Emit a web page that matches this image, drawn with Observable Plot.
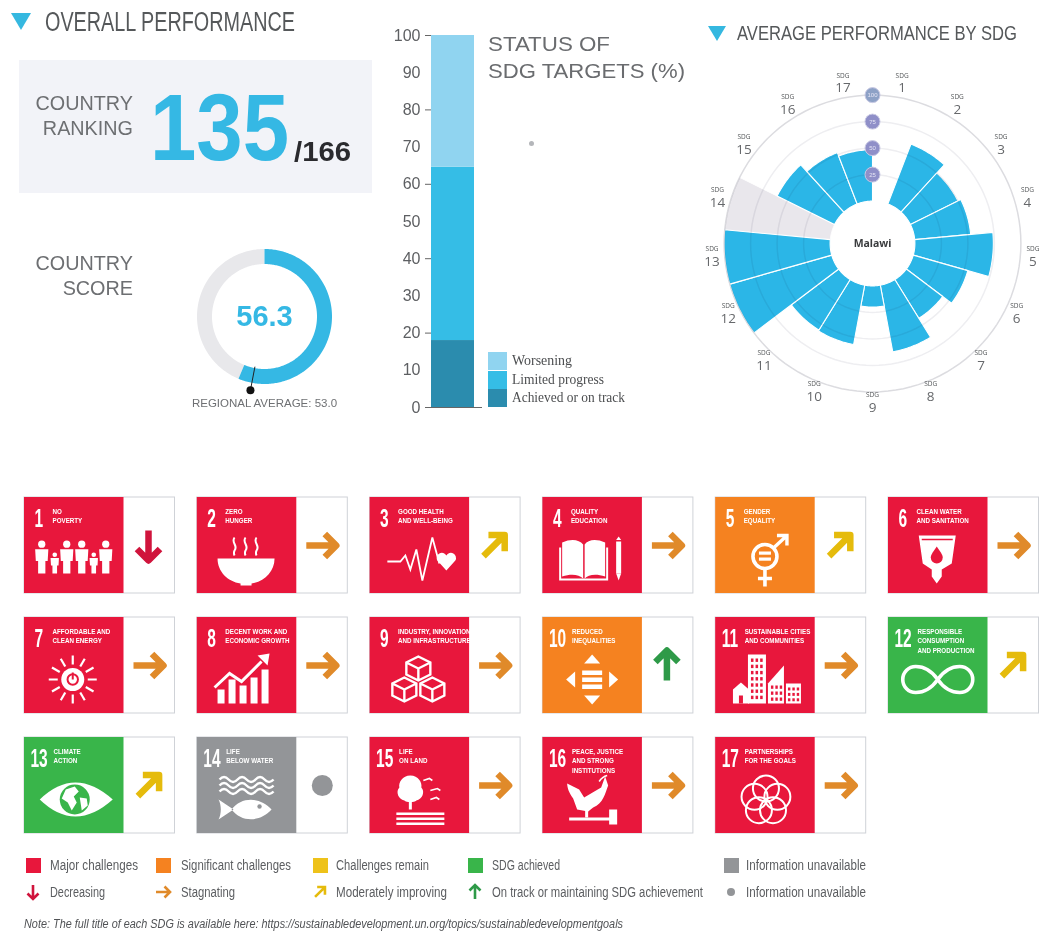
<!DOCTYPE html>
<html>
<head>
<meta charset="utf-8">
<script src="https://cdn.jsdelivr.net/npm/d3@7"></script>
<script src="https://cdn.jsdelivr.net/npm/@observablehq/plot@0.6"></script>
<style>
  html, body { margin: 0; background: #fff; }
  #page { position: relative; width: 1042px; height: 934px; overflow: hidden; font-family: "Liberation Sans", sans-serif; }
  #page > * { position: absolute; }
  #page svg { overflow: visible; background: none; }
  .label { color: #6d6f72; font-size: 19.8px; line-height: 25px; text-align: right; width: 125px; left: 8px; }
  .heading { color: #55585a; white-space: nowrap; transform-origin: 0 50%; }
  .tri { width: 0; height: 0; border-left: 10px solid transparent; border-right: 10px solid transparent; border-top: 17px solid #35b8e0; }
  .swatch { width: 15px; height: 15px; }
  .legend { font-size: 14px; color: #5b5d60; white-space: nowrap; transform-origin: 0 50%; }
  .barkey { font: 14px "Liberation Serif", serif; color: #4c4e50; white-space: nowrap; transform-origin: 0 50%; }
</style>
</head>
<body>
<div id="page"></div>
<script>
// Country figures
const countryRank = 135;
const countryTotal = 166;
const countryScore = 56.3;
const regionalAverage = 53.0;

// Share of SDG targets by status
const targetStatus = ["Achieved or on track", "Limited progress", "Worsening"];
const targetShare = [18, 46.6, 35.4];
const targetColors = ["#2b8cae", "#35bde6", "#90d4f0"];
const yTicks = [0, 10, 20, 30, 40, 50, 60, 70, 80, 90, 100];

// Average score per goal; goal 14 has no score and goal 1 has no visible bar
const sdgNumbers = [1, 2, 3, 4, 5, 6, 7, 8, 9, 10, 11, 12, 13, 14, 15, 16, 17];
const sdgScores = [0, 60.5, 50, 53, 74, 53.5, 43, 64, 20, 57, 56, 100, 100, null, 60.5, 52, 48.5];
const ringValues = [25, 50, 75, 100];

// Dashboard tiles
const sdgTitles = [
  "NO\nPOVERTY", "ZERO\nHUNGER", "GOOD HEALTH\nAND WELL-BEING", "QUALITY\nEDUCATION", "GENDER\nEQUALITY",
  "CLEAN WATER\nAND SANITATION", "AFFORDABLE AND\nCLEAN ENERGY", "DECENT WORK AND\nECONOMIC GROWTH",
  "INDUSTRY, INNOVATION\nAND INFRASTRUCTURE", "REDUCED\nINEQUALITIES", "SUSTAINABLE CITIES\nAND COMMUNITIES",
  "RESPONSIBLE\nCONSUMPTION\nAND PRODUCTION", "CLIMATE\nACTION", "LIFE\nBELOW WATER", "LIFE\nON LAND",
  "PEACE, JUSTICE\nAND STRONG\nINSTITUTIONS", "PARTNERSHIPS\nFOR THE GOALS"
];
const sdgStatus = ["major", "major", "major", "major", "significant", "major", "major", "major", "major", "significant", "major", "achieved", "achieved", "none", "major", "major", "major"];
const sdgTrend = ["down", "flat", "rising", "flat", "rising", "flat", "flat", "flat", "flat", "up", "flat", "rising", "rising", "none", "flat", "flat", "flat"];

const statusColor = { major: "#e8173c", significant: "#f58220", remain: "#eec21a", achieved: "#39b54a", none: "#939598" };
const trendColor = { down: "#d0143c", flat: "#e08a2a", rising: "#e5bb0c", up: "#2e9a48", none: "#939598" };
const trendAngle = { down: 180, flat: 90, rising: 45, up: 0 };

const page = document.getElementById("page");
const blue = "#35b8e4";

function html(tag, cls, style, text) {
  const el = document.createElement(tag);
  if (cls) el.className = cls;
  el.style.cssText = style;
  if (text != null) el.textContent = text;
  page.appendChild(el);
  return el;
}
// Sets a line of text to a given width, squeezing the glyphs horizontally
function fitted(cls, style, text, width) {
  const el = html("div", cls, style + ";transform-origin:0 50%", text);
  const natural = el.getBoundingClientRect().width;
  el.style.transform = `scaleX(${width / natural})`;
  return el;
}
function place(plot, left, top) {
  plot.style.left = left + "px";
  plot.style.top = top + "px";
  plot.style.position = "absolute";
  page.appendChild(plot);
}
// Narrows every text of the given font size
function narrowTexts(plot, size, k) {
  plot.querySelectorAll(`g[font-size="${size}"] text`).forEach(t => {
    t.setAttribute("transform", `${t.getAttribute("transform") || ""} scale(${k},1)`);
  });
}

// Headings and the ranking panel
html("div", "tri", "left:11px;top:13px");
fitted("heading", "left:45px;top:5px;font-size:27px;line-height:34px", "OVERALL PERFORMANCE", 250);
html("div", "", "left:19px;top:60px;width:353px;height:133px;background:#f2f3f8");
html("div", "label", "top:91px", "COUNTRY");
html("div", "label", "top:116px", "RANKING");
fitted("", `left:150px;top:72px;font-size:95px;line-height:110px;font-weight:bold;color:${blue};white-space:nowrap`, String(countryRank), 139);
fitted("", "left:294px;top:134px;font-size:28.5px;line-height:34px;font-weight:bold;color:#2a2a2e;white-space:nowrap", "/" + countryTotal, 57);
html("div", "label", "top:251px", "COUNTRY");
html("div", "label", "top:276px", "SCORE");
html("div", "tri", "left:708px;top:26px;border-left-width:9.5px;border-right-width:9.5px;border-top-width:15px");
fitted("heading", "left:737px;top:20px;font-size:21px;line-height:26px", "AVERAGE PERFORMANCE BY SDG", 280);
fitted("heading", "left:488px;top:30px;font-size:21px;line-height:27px;color:#6a6c6f", "STATUS OF", 122);
fitted("heading", "left:488px;top:57px;font-size:21px;line-height:27px;color:#6a6c6f", "SDG TARGETS (%)", 197);
html("div", "", "left:529px;top:141px;width:5px;height:5px;border-radius:50%;background:#b4b6ba");

// Score gauge
const polar = (deg, r) => [r * Math.sin(deg * Math.PI / 180), -r * Math.cos(deg * Math.PI / 180)];
function annularSector(start, end, r0, r1) {
  const pts = [];
  const n = Math.max(2, Math.ceil(Math.abs(end - start)));
  for (let i = 0; i <= n; i++) pts.push(polar(start + (end - start) * i / n, r1));
  for (let i = n; i >= 0; i--) pts.push(polar(start + (end - start) * i / n, r0));
  return pts;
}
const toDeg = v => v * 3.6;
const gaugeInner = 52.5, gaugeOuter = 67.5, gaugePin = 75;
place(Plot.plot({
  width: 200, height: 200, margin: 0, axis: null,
  x: { domain: [-100, 100] }, y: { domain: [100, -100] },
  marks: [
    Plot.line(annularSector(toDeg(countryScore), 360, gaugeInner, gaugeOuter), { fill: "#e8e8eb", stroke: "none", curve: "linear-closed" }),
    Plot.line(annularSector(0, toDeg(countryScore), gaugeInner, gaugeOuter), { fill: blue, stroke: "none", curve: "linear-closed" }),
    Plot.line([polar(toDeg(regionalAverage), gaugeInner - 1), polar(toDeg(regionalAverage), gaugePin)], { stroke: "#222", strokeWidth: 1 }),
    Plot.dot([polar(toDeg(regionalAverage), gaugePin)], { x: "0", y: "1", r: 4, fill: "#111" }),
    Plot.text([countryScore.toFixed(1)], { x: () => 0, y: () => 0, fontSize: 29, fontWeight: "bold", fill: blue, fontFamily: "Liberation Sans" }),
    Plot.text([`REGIONAL AVERAGE: ${regionalAverage.toFixed(1)}`], { x: () => 0, y: () => 0, dy: 87, fontSize: 11.5, fill: "#6e7073", fontFamily: "Liberation Sans" })
  ]
}), 164, 216);

// Status of targets: single stacked column
const statusRows = targetStatus.map((status, i) => ({ status, share: targetShare[i], color: targetColors[i], group: "Targets" }));
place(Plot.plot({
  width: 102, height: 430, marginLeft: 51, marginRight: 8, marginTop: 35, marginBottom: 23,
  style: { background: "none" },
  x: { axis: null, domain: ["Targets"], padding: 0 },
  y: { domain: [0, 100], axis: null },
  marks: [
    Plot.barY(statusRows, { x: "group", y: "share", fill: d => d.color, order: null }),
    Plot.ruleY([0], { stroke: "#666", strokeWidth: 1, insetRight: -8, insetLeft: -6 }),
    Plot.tickY([20, 40, 60, 80, 100], { stroke: "#666", strokeWidth: 1, insetLeft: -6, insetRight: 43, x: undefined }),
    Plot.axisY({ ticks: yTicks, tickSize: 0, tickPadding: 11, label: null, fontSize: 16, fill: "#5d5f62", fontFamily: "Liberation Sans" })
  ],
  color: { type: "identity" }
}), 380, 0);

// Key beside the column
[["Worsening", 2, 60], ["Limited progress", 1, 92], ["Achieved or on track", 0, 113]].forEach(([name, i, w], row) => {
  html("div", "", `left:488px;top:${352 + row * 18.7}px;width:19px;height:18px;background:${targetColors[i]}`);
  fitted("barkey", `left:512px;top:${352 + row * 18.7}px;line-height:18px`, name, w);
});

// Rose of SDG scores: radius is the hole plus the score
const pxPerUnit = 1.06;
const hole = 40;
const sliceDeg = 360 / 17;
const labelRadius = 112;
const rose = sdgNumbers.map((num, i) => ({ num, score: sdgScores[i], start: i * sliceDeg, end: (i + 1) * sliceDeg }));
const wedgePoints = rows => rows.flatMap(d => annularSector(d.start, d.end, hole, hole + (d.score ?? 100)).map(p => ({ num: d.num, x: p[0], y: p[1] })));
const scored = wedgePoints(rose.filter(d => d.score));
const missing = wedgePoints(rose.filter(d => d.score == null));
const rings = ringValues.flatMap(v => d3.range(0, 361, 3).map(a => { const p = polar(a, hole + v); return { v, x: p[0], y: p[1] }; }));
const ticks = ringValues.map(v => ({ v, x: 0, y: -(hole + v) }));
const roseLabels = rose.map(d => {
  const p = polar((d.start + d.end) / 2, hole + labelRadius);
  return { num: d.num, x: p[0], y: p[1] };
});
const roseW = 340, roseH = 370;
place(Plot.plot({
  width: roseW, height: roseH, margin: 0, axis: null,
  x: { domain: [-roseW / 2 / pxPerUnit, roseW / 2 / pxPerUnit] },
  y: { domain: [roseH / 2 / pxPerUnit, -roseH / 2 / pxPerUnit] },
  marks: [
    Plot.line(missing, { x: "x", y: "y", z: "num", fill: "#e9e7ec", stroke: "#fff", strokeWidth: 1, curve: "linear-closed" }),
    Plot.line(scored, { x: "x", y: "y", z: "num", fill: "#2bb6e7", stroke: "#fff", strokeWidth: 1.1, curve: "linear-closed" }),
    Plot.line(rings, { x: "x", y: "y", z: "v", stroke: d => d.v === 100 ? "#dcdce0" : "#eeeef1", strokeWidth: 1.5, mixBlendMode: "multiply" }),
    Plot.dot(ticks, { x: "x", y: "y", r: 7.5, fill: d => d.v === 100 ? "#8da1c6" : "#8f8fc8", stroke: "#c9c9e4", strokeWidth: 1 }),
    Plot.text(ticks, { x: "x", y: "y", text: "v", fontSize: 6, fill: "#e4e4f4", fontFamily: "Liberation Sans" }),
    Plot.text(roseLabels, { x: "x", y: "y", text: () => "SDG", dy: -9.5, fontSize: 6.5, fill: "#55585a", fontFamily: "Open Sans" }),
    Plot.text(roseLabels, { x: "x", y: "y", text: "num", dy: 3, fontSize: 13.5, fill: "#66686b", fontFamily: "Open Sans" }),
    Plot.text(["Malawi"], { x: () => 0, y: () => 0, fontSize: 10.5, fontWeight: "bold", fill: "#3a3c3e", fontFamily: "Noto Sans" })
  ],
  color: { type: "identity" }
}), 872 - roseW / 2, 243 - roseH / 2);

// White pictograms for the tiles, drawn on a 99 x 96 canvas
const person = (x, top, h) => {
  const r = h * 0.11, w = h * 0.2;
  return `<circle cx="${x}" cy="${top + r}" r="${r}"/><path d="M${x - w} ${top + 2.4 * r}H${x + w}L${x + w * .9} ${top + h * .62}H${x + w * .55}V${top + h}H${x - w * .55}V${top + h * .62}H${x - w * .9}Z"/>`;
};
const cube = (x, y, s) => `<path d="M${x} ${y - s}L${x + s} ${y - s / 2}V${y + s / 2}L${x} ${y + s}L${x - s} ${y + s / 2}V${y - s / 2}Z M${x - s} ${y - s / 2}L${x} ${y}L${x + s} ${y - s / 2}M${x} ${y}V${y + s}" fill="none" stroke="#fff" stroke-width="2.4"/>`;
const wave = y => `<path d="M22 ${y}q4.5 -5 9 0t9 0t9 0t9 0t9 0t9 0" fill="none" stroke="#fff" stroke-width="2.4"/>`;
const rays = (cx, cy, r0, r1, n) => d3.range(n).map(i => {
  const a = i * 2 * Math.PI / n;
  return `<line x1="${cx + r0 * Math.cos(a)}" y1="${cy + r0 * Math.sin(a)}" x2="${cx + r1 * Math.cos(a)}" y2="${cy + r1 * Math.sin(a)}" stroke="#fff" stroke-width="2.2"/>`;
}).join("");
const petals = d3.range(5).map(i => {
  const a = -Math.PI / 2 + i * 2 * Math.PI / 5;
  return `<circle cx="${50 + 12 * Math.cos(a)}" cy="${63 + 12 * Math.sin(a)}" r="13" fill="none" stroke="#fff" stroke-width="2"/>`;
}).join("");
const windows = (x0, y0, cols, rows, dx, dy, fill) => d3.range(rows).flatMap(r => d3.range(cols).map(c => `<rect x="${x0 + c * dx}" y="${y0 + r * dy}" width="${dx * .55}" height="${dy * .55}" fill="${fill}"/>`)).join("");

const icons = {
  1: person(17, 43, 33) + person(30, 55, 21) + person(42, 43, 33) + person(57, 43, 33) + person(69, 55, 21) + person(81, 43, 33),
  2: `<path d="M20 61H77C77 74 67 84 54 86V88H43V86C30 84 20 74 20 61Z"/><path d="M37 40c-4 5 4 8 0 13c-1 2 -1 3 0 5M48 40c-4 5 4 8 0 13c-1 2 -1 3 0 5M59 40c-4 5 4 8 0 13c-1 2 -1 3 0 5" fill="none" stroke="#fff" stroke-width="2"/>`,
  3: `<polyline points="17,64 30,64 35,58 40,72 46,52 52,83 62,40 69,66" fill="none" stroke="#fff" stroke-width="1.8"/><path d="M76 73L67 63a5 5 0 0 1 9 -5a5 5 0 0 1 9 5Z"/>`,
  4: `<path d="M19 45C28 41 36 42 40 47V81C36 77 28 76 19 79Z"/><path d="M62 45C53 41 45 42 41.5 47V81C45 77 53 76 62 79Z"/><path d="M16 50V83H65V50H63V81H18V50Z"/><rect x="73" y="44" width="5" height="32"/><path d="M73 76H78L75.5 83Z"/><path d="M73 42.5L75.5 39L78 42.5Z"/>`,
  5: `<circle cx="49" cy="59" r="12" fill="none" stroke="#fff" stroke-width="3.6"/><rect x="43" y="54" width="12" height="3.2"/><rect x="43" y="60" width="12" height="3.2"/><path d="M57 51L70 39M61 38H71V48" fill="none" stroke="#fff" stroke-width="3.4"/><path d="M49 71V89M42 81H56" fill="none" stroke="#fff" stroke-width="3.6"/>`,
  6: `<path d="M30 38H67L63 66L53 72V79L48 86L43 79V72L34 66Z"/><path d="M33 42H64" stroke="#e8173c" stroke-width="1.5"/><path d="M48 49c-5 7 -6 9 -6 11a6 6 0 0 0 12 0c0 -2 -1 -4 -6 -11Z" fill="#e8173c"/>`,
  7: `<circle cx="48" cy="62" r="11.5"/><circle cx="48" cy="62" r="5.2" fill="none" stroke="#e8173c" stroke-width="2"/><path d="M48 55V62" stroke="#e8173c" stroke-width="2"/>` + rays(48, 62, 15, 24, 12),
  8: `<rect x="20" y="72" width="7" height="14"/><rect x="31" y="62" width="7" height="24"/><rect x="42" y="68" width="7" height="18"/><rect x="53" y="60" width="7" height="26"/><rect x="64" y="52" width="7" height="34"/><path d="M17 70L32 56L44 64L64 44" fill="none" stroke="#fff" stroke-width="3"/><path d="M60 38L72 36L70 48Z"/>`,
  9: cube(48, 51, 12) + cube(34, 72, 12) + cube(62, 72, 12),
  10: `<rect x="39" y="53" width="20" height="4.5"/><rect x="39" y="60" width="20" height="4.5"/><rect x="39" y="67" width="20" height="4.5"/><path d="M41 46L49 37L57 46Z"/><path d="M41 78L49 87L57 78Z"/><path d="M32 54L23 62L32 70Z"/><path d="M66 54L75 62L66 70Z"/>`,
  11: `<path d="M32 37H50V86H32Z"/>${windows(35, 41, 3, 7, 4.6, 6.2, "#e8173c")}<path d="M17 86V72L25 65L33 72V86Z"/><rect x="23" y="78" width="4" height="8" fill="#e8173c"/><path d="M52 86V66L68 48V86Z"/>${windows(55, 68, 3, 3, 4.4, 6, "#e8173c")}<path d="M70 66H85V86H70Z"/>${windows(72, 70, 3, 3, 4.4, 5.4, "#e8173c")}`,
  12: `<path d="M49 62C42 52 34 49 27 49A13 13 0 0 0 27 75C34 75 42 72 49 62C56 52 64 49 71 49A13 13 0 0 1 71 75C64 75 56 72 49 62Z" fill="none" stroke="#fff" stroke-width="3.6"/>`,
  13: `<path d="M15 62Q50 28 88 62Q50 96 15 62Z"/><circle cx="50" cy="62" r="15" fill="#39b54a"/><path d="M41 52l9 -3l4 5l-5 5l3 6l-5 8l-4 -8l-6 -4ZM55 60l7 1l1 7l-6 5Z"/>`,
  14: wave(42) + wave(48) + wave(54) + `<path d="M34 72C44 59 62 59 74 72C62 85 44 85 34 72ZM36 72L21 62C24 68 24 76 21 82Z"/><circle cx="62" cy="69" r="2.2" fill="#939598"/>`,
  15: `<path d="M40 38C32 38 28 45 29 50C25 54 28 62 34 63C36 65 44 65 46 63C52 62 55 54 51 50C52 45 48 38 40 38Z"/><rect x="38.5" y="60" width="3" height="12"/><rect x="26" y="75" width="48" height="2.5"/><rect x="26" y="80" width="48" height="2.5"/><rect x="26" y="85" width="48" height="2.5"/><path d="M53 43l6 -2l3 2M60 53l7 -2l3 2M60 62l6 -2l3 2" fill="none" stroke="#fff" stroke-width="1.6"/>`,
  16: `<path d="M24 46L36 52L41 60L58 50L62 39L65 48C62 56 60 66 50 70L45 74L34 72L30 61C26 56 24 50 24 46Z"/><path d="M56 44c2 -3 4 -5 8 -6" fill="none" stroke="#fff" stroke-width="1.6"/><rect x="26" y="80" width="46" height="3"/><rect x="66" y="72" width="8" height="15"/><rect x="42" y="73" width="3" height="7"/>`,
  17: petals
};
const iconUrl = n => "data:image/svg+xml," + encodeURIComponent(`<svg xmlns="http://www.w3.org/2000/svg" viewBox="0 0 99 96" fill="#fff">${icons[n]}</svg>`);

// Tile grid: x counts columns, y counts rows
const columnsPerRow = 6;
const colPx = 172.8, rowPx = 120;
const iconShare = 99.5 / colPx;
const boxShare = 150.5 / colPx;
const tileShare = 0.8;
const tiles = sdgNumbers.map((num, i) => ({
  num, title: sdgTitles[i], status: sdgStatus[i], trend: sdgTrend[i],
  col: i % columnsPerRow, row: Math.floor(i / columnsPerRow)
}));
const trending = tiles.filter(d => d.trend !== "none");
const arrowShape = {
  draw(ctx, l) {
    const h = 11.5;
    ctx.moveTo(0, 0);
    ctx.lineTo(0, -l + 1);
    ctx.moveTo(-h, -l + h);
    ctx.lineTo(0, -l);
    ctx.lineTo(h, -l + h);
  }
};
const numberSize = 25, titleSize = 8;
const tilePlot = Plot.plot({
  width: 1042, height: 370, margin: 0, axis: null,
  x: { domain: [0, columnsPerRow], range: [24, 24 + columnsPerRow * colPx] },
  y: { domain: [0, 3], range: [7, 367] },
  color: { type: "identity" },
  marks: [
    Plot.rect(tiles, { x1: "col", x2: d => d.col + boxShare, y1: "row", y2: d => d.row + tileShare, fill: "#fff", stroke: "#cfd2d7", strokeWidth: 1 }),
    Plot.rect(tiles, { x1: "col", x2: d => d.col + iconShare, y1: "row", y2: d => d.row + tileShare, fill: d => statusColor[d.status] }),
    Plot.image(tiles, { x: d => d.col + iconShare / 2, y: d => d.row + tileShare / 2, width: 99, height: 96, src: d => iconUrl(d.num) }),
    Plot.text(tiles, { x: d => d.col + (d.num > 9 ? 6 : 10) / colPx, y: d => d.row + 21 / rowPx, text: "num", textAnchor: "start", lineAnchor: "middle", fontSize: numberSize, fontWeight: "bold", fill: "#fff", fontFamily: "Liberation Sans" }),
    Plot.text(tiles, { x: d => d.col + (d.num > 9 ? 29 : 28) / colPx, y: d => d.row + 9 / rowPx, text: "title", textAnchor: "start", lineAnchor: "top", lineHeight: 1.24, fontSize: titleSize, fontWeight: "bold", fill: "#fff", fontFamily: "Liberation Sans" }),
    Plot.vector(trending, { x: d => d.col + 124 / colPx, y: d => d.row + tileShare / 2, rotate: d => trendAngle[d.trend], length: 30, anchor: "middle", shape: arrowShape, stroke: d => trendColor[d.trend], strokeWidth: 6.5, strokeLinecap: "butt", strokeLinejoin: "round" }),
    Plot.dot(tiles.filter(d => d.trend === "none"), { x: d => d.col + 125 / colPx, y: d => d.row + tileShare / 2, r: 10.5, fill: trendColor.none })
  ]
});
narrowTexts(tilePlot, numberSize, 0.62);
narrowTexts(tilePlot, titleSize, 0.78);
place(tilePlot, 0, 490);

// Key to the tile colours and arrows
const statusKey = [[26, "major", "Major challenges", 50, 88], [156, "significant", "Significant challenges", 181, 110], [313, "remain", "Challenges remain", 336, 93], [468, "achieved", "SDG achieved", 492, 68], [724, "none", "Information unavailable", 746, 120]];
statusKey.forEach(([x, s, name, tx, w]) => {
  html("div", "swatch", `left:${x}px;top:858px;background:${statusColor[s]}`);
  fitted("legend", `left:${tx}px;top:857px;line-height:17px`, name, w);
});
const trendKey = [[26, "down", "Decreasing", 50, 55], [156, "flat", "Stagnating", 181, 54], [313, "rising", "Moderately improving", 336, 111], [468, "up", "On track or maintaining SDG achievement", 492, 211]];
trendKey.forEach(([x, t, name, tx, w]) => {
  const s = document.createElementNS("http://www.w3.org/2000/svg", "svg");
  s.setAttribute("width", 18); s.setAttribute("height", 18); s.setAttribute("viewBox", "-9 -9 18 18");
  s.style.cssText = `left:${x - 2}px;top:883px;position:absolute`;
  s.innerHTML = `<g transform="rotate(${trendAngle[t]})" fill="none" stroke="${trendColor[t]}" stroke-width="2.6"><path d="M0 7V-7M-5.5 -1.5L0 -7L5.5 -1.5"/></g>`;
  page.appendChild(s);
  fitted("legend", `left:${tx}px;top:884px;line-height:17px`, name, w);
});
html("div", "", `left:727px;top:888px;width:8px;height:8px;border-radius:50%;background:${statusColor.none}`);
fitted("legend", "left:746px;top:884px;line-height:17px", "Information unavailable", 120);
fitted("", "left:24px;top:916px;font-size:12.5px;line-height:16px;font-style:italic;color:#505255;white-space:nowrap", "Note: The full title of each SDG is available here: https://sustainabledevelopment.un.org/topics/sustainabledevelopmentgoals", 599);
</script>
</body>
</html>
